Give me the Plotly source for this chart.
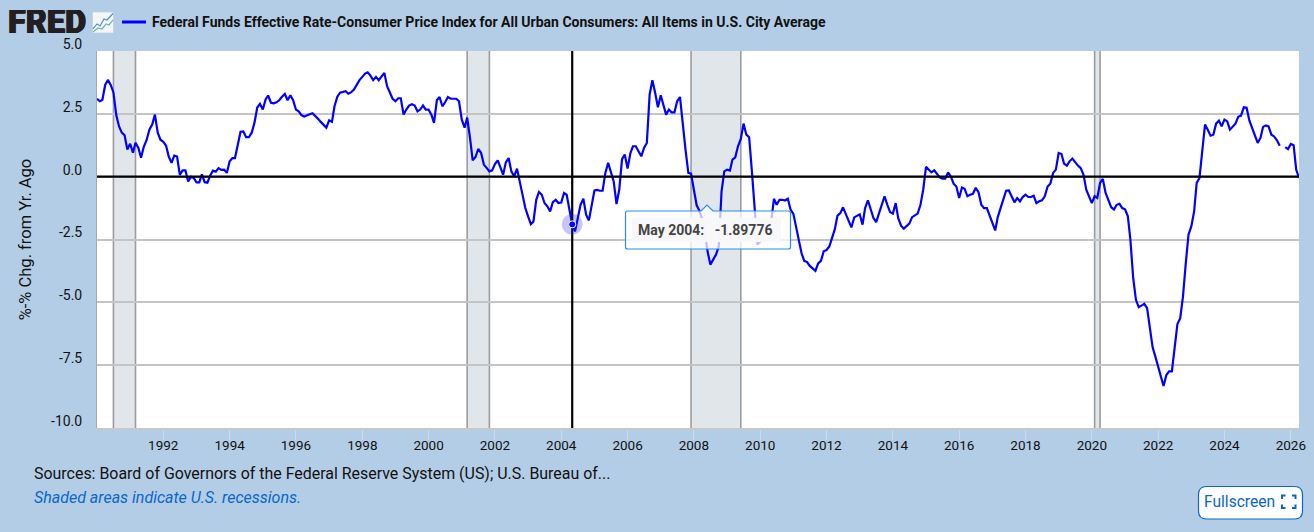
import pandas as pd
import plotly.graph_objects as go

TITLE = "Federal Funds Effective Rate-Consumer Price Index for All Urban Consumers: All Items in U.S. City Average"
Y_TITLE = "%-% Chg. from Yr. Ago"
SOURCE = "Sources: Board of Governors of the Federal Reserve System (US); U.S. Bureau of..."
NOTE = "Shaded areas indicate U.S. recessions."

START = "1990-01-01"
END = "2026-04-01"

v1990s = [
    3.1, 3.0, 3.05, 3.65, 3.85, 3.65, 3.35, 2.45, 2.0, 1.75, 1.65, 1.08,
    1.31, 0.95, 1.35, 1.15, 0.75, 1.2, 1.45, 1.87, 2.07, 2.47, 1.75, 1.47,
    1.39, 1.23, 0.8, 0.55, 0.84, 0.8, 0.07, 0.25, 0.25, -0.19, 0.0, -0.05,
    -0.23, -0.23, 0.09, -0.22, -0.24, 0.05, 0.24, 0.2, 0.34, 0.27, 0.28, 0.15,
    0.61, 0.74, 0.74, 1.27, 1.79, 1.8, 1.57, 1.57, 1.75, 2.14, 2.75, 2.9,
    2.67, 3.07, 3.23, 2.94, 2.92, 2.96, 3.04, 3.18, 3.29, 3.04, 3.24, 3.04,
    2.67, 2.6, 2.45, 2.39, 2.42, 2.48, 2.52, 2.42, 2.3, 2.18, 2.05, 1.95,
    2.24, 2.18, 2.8, 3.18, 3.34, 3.38, 3.4, 3.3, 3.36, 3.47, 3.67, 3.84,
    3.97, 4.1, 4.15, 4.02, 3.84, 3.97, 3.84, 3.97, 4.13, 3.6, 3.36, 3.1,
    3.0, 3.12, 3.12, 2.47, 2.67, 2.83, 2.88, 2.83, 2.6, 2.67, 2.83, 2.67,
]
v2000s = [
    2.67, 2.47, 2.14, 3.04, 3.17, 2.8, 2.96, 3.17, 3.1, 3.1, 3.1, 3.0,
    2.27, 1.95, 2.35, 1.55, 0.65, 0.78, 1.1, 0.95, 0.48, 0.35, 0.21, 0.25,
    0.5, 0.65, 0.41, 0.08, 0.57, 0.74, 0.21, 0.01, 0.32, -0.19, -0.85, -1.24,
    -1.58, -1.89, -1.78, -0.92, -0.61, -0.72, -1.05, -1.18, -1.38, -1.01, -0.92, -1.05,
    -1.03, -0.65, -0.72, -1.31, -1.89776, -2.18, -1.71, -1.12, -0.88, -1.51, -1.74, -1.18,
    -0.55, -0.53, -0.56, -0.56, 0.15, 0.55, 0.21, -0.19, -1.09, -0.52, 0.7, 0.88,
    0.32, 0.94, 1.21, 1.21, 1.01, 0.81, 1.14, 1.34, 3.27, 3.84, 3.33, 2.76,
    3.24, 2.87, 2.47, 2.67, 2.56, 2.56, 3.0, 3.17, 2.0, 1.08, 0.15, 0.12,
    -0.52, -1.14, -1.35, -1.7, -2.2, -3.0, -3.5, -3.3, -3.1, -2.78, -0.58, 0.21,
    0.28, 0.24, 0.68, 0.77, 1.21, 1.5, 2.11, 1.67, 1.57, 0.21, -1.5, -2.71,
]
v2010s = [
    -2.58, -2.05, -2.2, -2.05, -1.8, -0.88, -1.12, -0.92, -0.92, -0.95, -0.88, -1.31,
    -1.48, -2.0, -2.6, -3.05, -3.35, -3.4, -3.55, -3.65, -3.75, -3.45, -3.35, -2.97,
    -2.92, -2.78, -2.44, -2.1, -1.55, -1.45, -1.22, -1.5, -1.78, -2.02, -1.62, -1.55,
    -1.5, -1.91, -1.25, -0.94, -1.31, -1.65, -1.81, -1.43, -1.05, -0.78, -1.12, -1.41,
    -1.47, -1.05, -1.65, -1.95, -2.07, -1.95, -1.87, -1.61, -1.55, -1.47, -1.12, -0.52,
    0.39, 0.25, 0.17, 0.25, 0.12, -0.03, -0.08, -0.08, 0.17, 0.01, -0.28, -0.39,
    -0.85, -0.43, -0.48, -0.78, -0.72, -0.68, -0.44, -0.62, -1.12, -1.25, -1.25, -1.51,
    -1.84, -2.14, -1.61, -1.25, -0.89, -0.56, -0.55, -0.76, -1.02, -0.85, -0.98, -0.81,
    -0.72, -0.81, -0.81, -0.76, -1.05, -0.98, -0.94, -0.78, -0.39, -0.28, 0.15, 0.28,
    0.94, 0.9, 0.52, 0.44, 0.61, 0.72, 0.58, 0.44, 0.34, 0.08, -0.52, -0.78,
]
v2020s = [
    -1.05, -0.78, -0.85, -0.25, -0.09, -0.65, -0.92, -1.21, -1.31, -1.12, -1.08, -1.25,
    -1.3, -1.58, -2.51, -4.04, -4.9, -5.19, -5.13, -5.06, -5.23, -6.1, -6.79, -7.16,
    -7.56, -7.89, -8.33, -7.89, -7.75, -7.75, -6.69, -5.86, -5.63, -4.77, -3.44, -2.31,
    -1.98, -1.38, -0.25, -0.05, 1.01, 2.07, 1.87, 1.63, 1.67, 2.11, 2.23, 2.0,
    2.27, 2.2, 1.87, 1.98, 2.11, 2.38, 2.43, 2.76, 2.74, 2.24, 1.94, 1.6,
    1.34, 1.54, 1.98, 2.04, 2.0, 1.67, 1.6, 1.45, 1.23, None, 1.18, 1.1,
    1.3, 1.25, 0.28, -0.05,
]

values = v1990s + v2000s + v2010s + v2020s
dates = pd.date_range(START, END, freq="MS")
assert len(values) == len(dates)

recession_starts = ["1990-07-01", "2001-03-01", "2007-12-01", "2020-02-01"]
recession_ends = ["1991-03-01", "2001-11-01", "2009-06-01", "2020-04-01"]

hover_date = "2004-05-01"
hover_value = -1.89776
hover_label = "May 2004:\u00a0\u00a0\u00a0-1.89776"

y_min, y_max = -10, 5
y_ticks = [-10, -7.5, -5, -2.5, 0, 2.5, 5]
x_tick_years = list(range(1992, 2028, 2))

# page geometry of the plot area, used only for furniture outside the data
L, R, T, B = 97, 1299, 51, 428
W, H = 1314, 532
FONT = "Roboto"
BLUE = "#0000ff"
LINK = "#0a66c8"


def px(x):
    return (x - L) / (R - L)


def py(y):
    return (B - y) / (B - T)


def path(pts, close=False):
    s = "M " + " L ".join(f"{px(a):.5f},{py(b):.5f}" for a, b in pts)
    return s + (" Z" if close else "")


def rounded(x0, y0, x1, y1, r, notch=None):
    """Rounded rectangle path in paper coordinates, optional notch on the top edge."""
    top = [f"M {px(x0+r):.5f},{py(y0):.5f}"]
    if notch:
        nx, nw, nh = notch
        top += [f"L {px(nx-nw):.5f},{py(y0):.5f}", f"L {px(nx):.5f},{py(y0-nh):.5f}", f"L {px(nx+nw):.5f},{py(y0):.5f}"]
    top += [
        f"L {px(x1-r):.5f},{py(y0):.5f}", f"Q {px(x1):.5f},{py(y0):.5f} {px(x1):.5f},{py(y0+r):.5f}",
        f"L {px(x1):.5f},{py(y1-r):.5f}", f"Q {px(x1):.5f},{py(y1):.5f} {px(x1-r):.5f},{py(y1):.5f}",
        f"L {px(x0+r):.5f},{py(y1):.5f}", f"Q {px(x0):.5f},{py(y1):.5f} {px(x0):.5f},{py(y1-r):.5f}",
        f"L {px(x0):.5f},{py(y0+r):.5f}", f"Q {px(x0):.5f},{py(y0):.5f} {px(x0+r):.5f},{py(y0):.5f}", "Z",
    ]
    return " ".join(top)


fig = go.Figure()
fig.add_trace(go.Scatter(
    x=dates, y=values, mode="lines", connectgaps=False, name=TITLE,
    line=dict(color=BLUE, width=2.2), hoverinfo="skip", showlegend=False, cliponaxis=True,
))
# crosshair at the hovered month, below the hover markers
fig.add_trace(go.Scatter(
    x=[hover_date, hover_date], y=[y_min, y_max], mode="lines", showlegend=False, hoverinfo="skip",
    line=dict(color="#000000", width=2.2),
))
fig.add_trace(go.Scatter(
    x=[hover_date], y=[hover_value], mode="markers", showlegend=False, hoverinfo="skip",
    marker=dict(size=21, color="rgba(40,40,235,0.27)", line=dict(width=0)),
))
fig.add_trace(go.Scatter(
    x=[hover_date], y=[hover_value], mode="markers", showlegend=False, hoverinfo="skip",
    marker=dict(size=7, color=BLUE, line=dict(width=1, color="#ffffff")),
))

shapes = []
for s, e in zip(recession_starts, recession_ends):
    shapes.append(dict(type="rect", xref="x", yref="paper", x0=s, x1=e, y0=0, y1=1,
                       fillcolor="#e1e6ea", line_width=0, layer="between"))
    for d in (s, e):
        shapes.append(dict(type="line", xref="x", yref="paper", x0=d, x1=d, y0=0, y1=1,
                           line=dict(color="#9c9c9c", width=1.6), layer="between"))
# zero line sits above the series
shapes.append(dict(type="line", xref="paper", yref="y", x0=0, x1=1, y0=0, y1=0,
                   line=dict(color="#000000", width=2.2), layer="above"))

# tooltip
shapes.append(dict(type="path", xref="paper", yref="paper", path=rounded(625.5, 211, 790.5, 249, 2, notch=(707, 6, 6)),
                   fillcolor="rgba(255,255,255,0.74)", line=dict(color="#2a8de8", width=1.2), layer="above"))
shapes.append(dict(type="rect", xref="paper", yref="paper", x0=px(632), x1=px(781), y0=py(242), y1=py(218),
                   fillcolor="rgba(248,248,250,0.96)", line_width=0, layer="above"))

# legend sample
shapes.append(dict(type="line", xref="paper", yref="paper", x0=px(122), x1=px(146), y0=py(22), y1=py(22),
                   line=dict(color=BLUE, width=3), layer="above"))

# FRED graph icon
shapes.append(dict(type="rect", xref="paper", yref="paper", x0=px(92.5), x1=px(113.5), y0=py(33), y1=py(12),
                   fillcolor="#f4f7fa", line=dict(color="#c4d0dc", width=0.8), layer="above"))
shapes.append(dict(type="path", xref="paper", yref="paper",
                   path=path([(93, 29), (97, 24), (100, 26), (104, 19), (107, 20), (113, 13.5)]),
                   line=dict(color="#4f8fd0", width=1.2), layer="above"))
shapes.append(dict(type="path", xref="paper", yref="paper",
                   path=path([(93, 32), (98, 28), (102, 29), (106, 24), (109, 25), (113, 20)]),
                   line=dict(color="#6cb8a8", width=1.2), layer="above"))

# fullscreen button
shapes.append(dict(type="path", xref="paper", yref="paper", path=rounded(1198.5, 486.5, 1302.5, 519, 8),
                   fillcolor="#ffffff", line=dict(color=LINK, width=1.2), layer="above"))
for pts in (
    [(1282, 499), (1282, 495.5), (1285.5, 495.5)],
    [(1292, 495.5), (1295.5, 495.5), (1295.5, 499)],
    [(1282, 504.5), (1282, 508), (1285.5, 508)],
    [(1292, 508), (1295.5, 508), (1295.5, 504.5)],
):
    shapes.append(dict(type="path", xref="paper", yref="paper", path=path(pts),
                       line=dict(color=LINK, width=2), layer="above"))


def note(text, x, y, size, color="#000000", xanchor="left", **font):
    return dict(text=text, xref="paper", yref="paper", x=px(x), y=py(y), xanchor=xanchor, yanchor="middle",
                showarrow=False, align="left", borderpad=0,
                font=dict(family=font.pop("family", FONT), size=size, color=color, **font))


fred = note("FRED", 7, 22.5, 32.5, "#231f20", family="Roboto", weight=900,
            shadow="0.6px 0 0 #231f20, -0.6px 0 0 #231f20")
fred["height"] = 24

annotations = [
    fred,
    note(TITLE, 151, 22, 14, "#111111", weight="bold"),
    note(SOURCE, 32.5, 473, 15.95, "#111111"),
    note(NOTE, 32.5, 497, 16, LINK, style="italic"),
    note(hover_label, 637, 230, 14, "#444444", weight="bold"),
    note("Fullscreen", 1203, 502, 15.6, LINK),
]

fig.update_layout(
    width=W, height=H, autosize=False,
    margin=dict(l=L, r=W - R, t=T, b=H - B, pad=0),
    paper_bgcolor="#b3cde6", plot_bgcolor="#ffffff",
    font=dict(family=FONT, color="#111111"),
    shapes=shapes, annotations=annotations, showlegend=False, hovermode=False,
    xaxis=dict(
        type="date", range=[START, END], tickvals=[f"{y}-01-01" for y in x_tick_years],
        ticktext=[str(y) for y in x_tick_years], ticks="outside", ticklen=10, tickwidth=1,
        ticklabelstandoff=-6, tickcolor="#c9dbec", tickfont=dict(size=13.5, color="#111111", family=FONT),
        showgrid=False, zeroline=False, showline=True, linecolor="#c8c8c8", linewidth=2,
        automargin=False,
    ),
    yaxis=dict(
        range=[y_min, y_max], tickvals=y_ticks, ticktext=["-10.0", "-7.5", "-5.0", "-2.5", "0.0", "2.5", "5.0"],
        ticks="", ticklabelstandoff=11, ticklabelshift=-7, tickfont=dict(size=14, color="#111111", family=FONT),
        gridcolor="#c4c4c4", gridwidth=2, zeroline=False, showline=True, linecolor="#a8a8a8", linewidth=1,
        title=dict(text=Y_TITLE, font=dict(size=16.5, color="#111111", family=FONT), standoff=15),
    ),
)

fig.write_html("out.html", config={"displayModeBar": False},
               post_script="document.body.style.margin='0';document.body.style.overflow='hidden';")
